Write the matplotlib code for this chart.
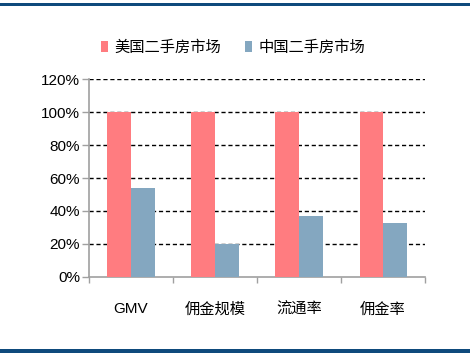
import matplotlib
matplotlib.use('Agg')
import matplotlib.pyplot as plt
import numpy as np
from matplotlib.patches import Rectangle

categories = ['GMV', '佣金规模', '流通率', '佣金率']
us_market = [1.00, 1.00, 1.00, 1.00]
cn_market = [0.54, 0.20, 0.37, 0.33]
series_names = ['美国二手房市场', '中国二手房市场']
yticks = [0, 0.2, 0.4, 0.6, 0.8, 1.0, 1.2]
ytick_labels = ['0%', '20%', '40%', '60%', '80%', '100%', '120%']

plt.rcParams['font.family'] = ['Liberation Sans', 'Noto Sans CJK SC', 'DejaVu Sans']

fig = plt.figure(figsize=(4.7, 3.53), dpi=100)
ax = fig.add_axes([0.1894, 0.2153, 0.7149, 0.5609])

x = np.arange(len(categories))
w = 0.28
ax.bar(x - w / 2, us_market, w, color='#FF7C80', label=series_names[0], zorder=3)
ax.bar(x + w / 2, cn_market, w, color='#84A7C0', label=series_names[1], zorder=3)

ax.set_xlim(-0.5, len(categories) - 0.5)
ax.set_ylim(0, 1.2)
ax.set_yticks(yticks)
ax.set_yticklabels(ytick_labels, fontsize=11)
ax.set_xticks(x)
ax.set_xticklabels(categories, fontsize=11)
ax.set_xticks(np.arange(-0.5, len(categories)), minor=True)
ax.tick_params(axis='x', which='major', length=0, pad=18)
ax.tick_params(axis='x', which='minor', length=4, color='#A0A0A0', width=1)
ax.tick_params(axis='y', length=5, color='#A0A0A0', width=1, pad=1.5)

# dashed grid, not on the zero line
for yv in yticks[1:]:
    ax.axhline(yv, color='black', linewidth=1, linestyle=(0, (3, 2)), zorder=2)

for s in ['top', 'right']:
    ax.spines[s].set_visible(False)
for s in ['left', 'bottom']:
    ax.spines[s].set_color('#A0A0A0')
    ax.spines[s].set_linewidth(1.2)

fig.legend(loc='center', bbox_to_anchor=(0.496, 0.866), ncol=2, frameon=False,
           fontsize=11, handlelength=0.45, handleheight=0.7, handletextpad=0.4,
           columnspacing=1.6)

# dark blue border lines top and bottom
fig.add_artist(Rectangle((0, 1 - 6 / 353), 1, 3 / 353, transform=fig.transFigure,
                         color='#0E4A7C', linewidth=0))
fig.add_artist(Rectangle((0, 0), 1, 4 / 353, transform=fig.transFigure,
                         color='#0E4A7C', linewidth=0))

plt.savefig('out.png', dpi=100)
